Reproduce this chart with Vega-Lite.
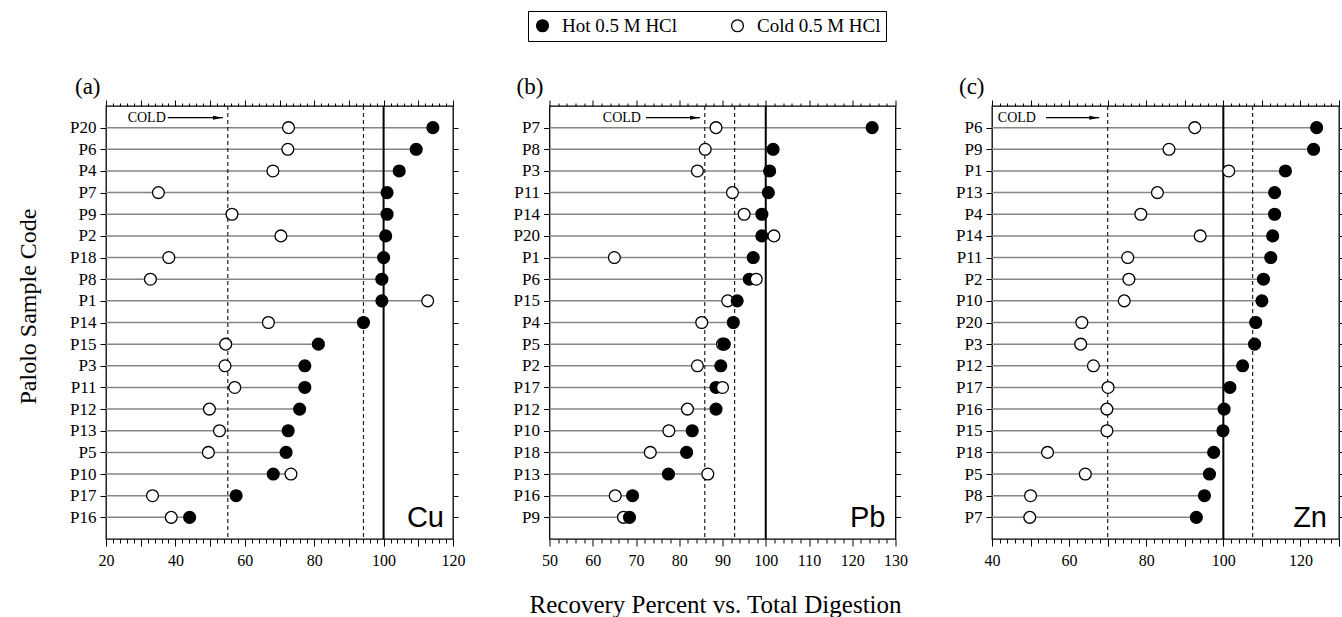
{
  "$schema": "https://vega.github.io/schema/vega-lite/v6.json",
  "background": "white",
  "padding": {"left": 15, "top": 10, "right": 0, "bottom": 2},
  "datasets": {
    "pts": [
      {"panel":"a","sample":"P20","hot":114.2,"cold":72.6},
      {"panel":"a","sample":"P6","hot":109.4,"cold":72.4},
      {"panel":"a","sample":"P4","hot":104.5,"cold":68.1},
      {"panel":"a","sample":"P7","hot":101.0,"cold":35.1},
      {"panel":"a","sample":"P9","hot":101.0,"cold":56.3},
      {"panel":"a","sample":"P2","hot":100.6,"cold":70.4},
      {"panel":"a","sample":"P18","hot":100.0,"cold":38.1},
      {"panel":"a","sample":"P8","hot":99.5,"cold":32.8},
      {"panel":"a","sample":"P1","hot":99.5,"cold":112.7},
      {"panel":"a","sample":"P14","hot":94.2,"cold":66.8},
      {"panel":"a","sample":"P15","hot":81.2,"cold":54.5},
      {"panel":"a","sample":"P3","hot":77.3,"cold":54.3},
      {"panel":"a","sample":"P11","hot":77.3,"cold":57.1},
      {"panel":"a","sample":"P12","hot":75.8,"cold":49.8},
      {"panel":"a","sample":"P13","hot":72.5,"cold":52.7},
      {"panel":"a","sample":"P5","hot":71.9,"cold":49.5},
      {"panel":"a","sample":"P10","hot":68.2,"cold":73.3},
      {"panel":"a","sample":"P17","hot":57.5,"cold":33.4},
      {"panel":"a","sample":"P16","hot":44.1,"cold":38.8},
      {"panel":"b","sample":"P7","hot":124.6,"cold":88.5},
      {"panel":"b","sample":"P8","hot":101.7,"cold":86.0},
      {"panel":"b","sample":"P3","hot":100.9,"cold":84.2},
      {"panel":"b","sample":"P11","hot":100.6,"cold":92.3},
      {"panel":"b","sample":"P14","hot":99.1,"cold":95.0},
      {"panel":"b","sample":"P20","hot":99.1,"cold":101.9},
      {"panel":"b","sample":"P1","hot":97.1,"cold":65.0},
      {"panel":"b","sample":"P6","hot":96.2,"cold":97.8},
      {"panel":"b","sample":"P15","hot":93.4,"cold":91.2},
      {"panel":"b","sample":"P4","hot":92.5,"cold":85.2},
      {"panel":"b","sample":"P5","hot":90.4,"cold":90.0},
      {"panel":"b","sample":"P2","hot":89.6,"cold":84.2},
      {"panel":"b","sample":"P17","hot":88.5,"cold":90.0},
      {"panel":"b","sample":"P12","hot":88.5,"cold":81.9},
      {"panel":"b","sample":"P10","hot":83.0,"cold":77.6},
      {"panel":"b","sample":"P18","hot":81.7,"cold":73.3},
      {"panel":"b","sample":"P13","hot":77.5,"cold":86.6},
      {"panel":"b","sample":"P16","hot":69.2,"cold":65.2},
      {"panel":"b","sample":"P9","hot":68.5,"cold":67.1},
      {"panel":"c","sample":"P6","hot":124.2,"cold":92.6},
      {"panel":"c","sample":"P9","hot":123.4,"cold":85.9},
      {"panel":"c","sample":"P1","hot":116.1,"cold":101.4},
      {"panel":"c","sample":"P13","hot":113.3,"cold":82.9},
      {"panel":"c","sample":"P4","hot":113.3,"cold":78.6},
      {"panel":"c","sample":"P14","hot":112.8,"cold":94.0},
      {"panel":"c","sample":"P11","hot":112.3,"cold":75.2},
      {"panel":"c","sample":"P2","hot":110.4,"cold":75.5},
      {"panel":"c","sample":"P10","hot":110.0,"cold":74.3},
      {"panel":"c","sample":"P20","hot":108.4,"cold":63.3},
      {"panel":"c","sample":"P3","hot":108.1,"cold":63.0},
      {"panel":"c","sample":"P12","hot":105.0,"cold":66.3},
      {"panel":"c","sample":"P17","hot":101.7,"cold":70.1},
      {"panel":"c","sample":"P16","hot":100.2,"cold":69.8},
      {"panel":"c","sample":"P15","hot":99.9,"cold":69.8},
      {"panel":"c","sample":"P18","hot":97.5,"cold":54.4},
      {"panel":"c","sample":"P5","hot":96.4,"cold":64.2},
      {"panel":"c","sample":"P8","hot":95.1,"cold":50.0},
      {"panel":"c","sample":"P7","hot":93.0,"cold":49.8}
    ],
    "refs": [
      {"panel":"a","value":55.1},
      {"panel":"a","value":94.2},
      {"panel":"b","value":85.9},
      {"panel":"b","value":92.8},
      {"panel":"c","value":70.0},
      {"panel":"c","value":107.6}
    ]
  },
  "title": {"text": "Recovery Percent vs. Total Digestion", "orient": "bottom", "anchor": "middle", "frame": "bounds", "offset": 24, "fontSize": 25, "dx": 35},
  "bounds": "flush",
  "spacing": 96.5,
  "hconcat": [
    {
      "width": 347, "height": 433,
      "title": {"text": "(a)", "anchor": "start", "frame": "group", "dx": -31, "offset": 1},
      "layer": [
        {
          "data": {"name": "pts"},
          "transform": [{"filter": "datum.panel === 'a'"}, {"fold": ["hot", "cold"], "as": ["acid", "pct"]}],
          "mark": {"type": "bar", "size": 1.5, "color": "#858585"},
          "encoding": {
            "y": {"field": "sample", "type": "nominal",
                  "scale": {"type": "point", "padding": 1, "domain": ["P20","P6","P4","P7","P9","P2","P18","P8","P1","P14","P15","P3","P11","P12","P13","P5","P10","P17","P16"]},
                  "axis": {"orient": "left", "title": "Palolo Sample Code", "titlePadding": 29, "titleY": 200, "tickSize": 6, "labelPadding": 4}},
            "x": {"aggregate": "max", "field": "pct", "type": "quantitative",
                  "scale": {"domain": [20, 120], "nice": false, "zero": false},
                  "axis": {"orient": "bottom", "title": null, "tickCount": 50, "labelExpr": "datum.value % 20 === 0 ? datum.label : ''",
                           "tickSize": {"condition": {"test": "datum.value % 10 === 0", "value": 7}, "value": 4}, "labelPadding": 6}}
          }
        },
        {
          "data": {"name": "refs"},
          "transform": [{"filter": "datum.panel === 'a'"}],
          "mark": {"type": "rule", "strokeDash": [4, 3], "color": "#222222", "strokeWidth": 1.2},
          "encoding": {"x": {"field": "value", "type": "quantitative", "axis": null}}
        },
        {
          "data": {"values": [{}]},
          "mark": {"type": "rule", "color": "black", "strokeWidth": 2},
          "encoding": {"x": {"datum": 100, "type": "quantitative", "axis": null}}
        },
        {
          "data": {"values": [{}]},
          "mark": {"type": "rule", "color": "black", "strokeWidth": 1.2, "yOffset": -10},
          "encoding": {"x": {"datum": 37.8, "type": "quantitative", "axis": null}, "x2": {"datum": 53.7}, "y": {"datum": "P20", "type": "nominal", "axis": null}}
        },
        {
          "data": {"values": [{}]},
          "mark": {"type": "point", "shape": "M-1,-0.4L1,0L-1,0.4Z", "filled": true, "color": "black", "opacity": 1, "size": 100, "xOffset": -5, "yOffset": -10},
          "encoding": {"x": {"datum": 53.7, "type": "quantitative", "axis": null}, "y": {"datum": "P20", "type": "nominal", "axis": null}}
        },
        {
          "data": {"values": [{}]},
          "mark": {"type": "text", "text": "COLD", "align": "right", "baseline": "middle", "fontSize": 14, "dx": -2, "dy": -10, "color": "black"},
          "encoding": {"x": {"datum": 37.8, "type": "quantitative", "axis": null}, "y": {"datum": "P20", "type": "nominal", "axis": null}}
        },
        {
          "data": {"name": "pts"},
          "transform": [{"filter": "datum.panel === 'a'"}, {"fold": ["hot", "cold"], "as": ["acid", "pct"]}],
          "mark": {"type": "point", "filled": true, "size": 140, "stroke": "black", "strokeWidth": 1.3, "opacity": 1},
          "encoding": {
            "y": {"field": "sample", "type": "nominal", "axis": {"orient": "right", "labels": false, "tickSize": 5, "title": null}},
            "x": {"field": "pct", "type": "quantitative", "axis": {"orient": "top", "labels": false, "title": null, "tickCount": 50,
                  "tickSize": {"condition": {"test": "datum.value % 10 === 0", "value": 6}, "value": 3}}},
            "fill": {"field": "acid", "type": "nominal", "scale": {"domain": ["hot", "cold"], "range": ["black", "white"]},
                     "legend": {"title": null, "labelExpr": "datum.label === 'hot' ? 'Hot 0.5 M HCl' : 'Cold 0.5 M HCl'"}},
            "order": {"field": "pct", "type": "quantitative"}
          }
        },
        {
          "data": {"values": [{}]},
          "mark": {"type": "text", "text": "Cu", "align": "right", "baseline": "middle", "font": "Liberation Sans", "fontSize": 29, "dx": -9, "dy": 1, "color": "black"},
          "encoding": {"x": {"datum": 120, "type": "quantitative", "axis": null}, "y": {"datum": "P16", "type": "nominal", "axis": null}}
        }
      ],
      "resolve": {"axis": {"x": "independent", "y": "independent"}}
    },
    {
      "width": 346, "height": 433,
      "title": {"text": "(b)", "anchor": "start", "frame": "group", "dx": -33, "offset": 1},
      "layer": [
        {
          "data": {"name": "pts"},
          "transform": [{"filter": "datum.panel === 'b'"}, {"fold": ["hot", "cold"], "as": ["acid", "pct"]}],
          "mark": {"type": "bar", "size": 1.5, "color": "#858585"},
          "encoding": {
            "y": {"field": "sample", "type": "nominal",
                  "scale": {"type": "point", "padding": 1, "domain": ["P7","P8","P3","P11","P14","P20","P1","P6","P15","P4","P5","P2","P17","P12","P10","P18","P13","P16","P9"]},
                  "axis": {"orient": "left", "title": null, "tickSize": 6, "labelPadding": 4}},
            "x": {"aggregate": "max", "field": "pct", "type": "quantitative",
                  "scale": {"domain": [50, 130], "nice": false, "zero": false},
                  "axis": {"orient": "bottom", "title": null, "tickCount": 50, "labelExpr": "datum.value % 10 === 0 ? datum.label : ''",
                           "tickSize": {"condition": {"test": "datum.value % 10 === 0", "value": 7}, "value": 4}, "labelPadding": 6}}
          }
        },
        {
          "data": {"name": "refs"},
          "transform": [{"filter": "datum.panel === 'b'"}],
          "mark": {"type": "rule", "strokeDash": [4, 3], "color": "#222222", "strokeWidth": 1.2},
          "encoding": {"x": {"field": "value", "type": "quantitative", "axis": null}}
        },
        {
          "data": {"values": [{}]},
          "mark": {"type": "rule", "color": "black", "strokeWidth": 2},
          "encoding": {"x": {"datum": 100, "type": "quantitative", "axis": null}}
        },
        {
          "data": {"values": [{}]},
          "mark": {"type": "rule", "color": "black", "strokeWidth": 1.2, "yOffset": -10},
          "encoding": {"x": {"datum": 72.3, "type": "quantitative", "axis": null}, "x2": {"datum": 84.8}, "y": {"datum": "P7", "type": "nominal", "axis": null}}
        },
        {
          "data": {"values": [{}]},
          "mark": {"type": "point", "shape": "M-1,-0.4L1,0L-1,0.4Z", "filled": true, "color": "black", "opacity": 1, "size": 100, "xOffset": -5, "yOffset": -10},
          "encoding": {"x": {"datum": 84.8, "type": "quantitative", "axis": null}, "y": {"datum": "P7", "type": "nominal", "axis": null}}
        },
        {
          "data": {"values": [{}]},
          "mark": {"type": "text", "text": "COLD", "align": "right", "baseline": "middle", "fontSize": 14, "dx": -5, "dy": -10, "color": "black"},
          "encoding": {"x": {"datum": 72.3, "type": "quantitative", "axis": null}, "y": {"datum": "P7", "type": "nominal", "axis": null}}
        },
        {
          "data": {"name": "pts"},
          "transform": [{"filter": "datum.panel === 'b'"}, {"fold": ["hot", "cold"], "as": ["acid", "pct"]}],
          "mark": {"type": "point", "filled": true, "size": 140, "stroke": "black", "strokeWidth": 1.3, "opacity": 1},
          "encoding": {
            "y": {"field": "sample", "type": "nominal", "axis": {"orient": "right", "labels": false, "tickSize": 5, "title": null}},
            "x": {"field": "pct", "type": "quantitative", "axis": {"orient": "top", "labels": false, "title": null, "tickCount": 50,
                  "tickSize": {"condition": {"test": "datum.value % 10 === 0", "value": 6}, "value": 3}}},
            "fill": {"field": "acid", "type": "nominal", "scale": {"domain": ["hot", "cold"], "range": ["black", "white"]},
                     "legend": {"title": null, "labelExpr": "datum.label === 'hot' ? 'Hot 0.5 M HCl' : 'Cold 0.5 M HCl'"}},
            "order": {"field": "pct", "type": "quantitative"}
          }
        },
        {
          "data": {"values": [{}]},
          "mark": {"type": "text", "text": "Pb", "align": "right", "baseline": "middle", "font": "Liberation Sans", "fontSize": 29, "dx": -10, "dy": 1, "color": "black"},
          "encoding": {"x": {"datum": 130, "type": "quantitative", "axis": null}, "y": {"datum": "P9", "type": "nominal", "axis": null}}
        }
      ],
      "resolve": {"axis": {"x": "independent", "y": "independent"}}
    },
    {
      "width": 347, "height": 433,
      "title": {"text": "(c)", "anchor": "start", "frame": "group", "dx": -33, "offset": 1},
      "layer": [
        {
          "data": {"name": "pts"},
          "transform": [{"filter": "datum.panel === 'c'"}, {"fold": ["hot", "cold"], "as": ["acid", "pct"]}],
          "mark": {"type": "bar", "size": 1.5, "color": "#858585"},
          "encoding": {
            "y": {"field": "sample", "type": "nominal",
                  "scale": {"type": "point", "padding": 1, "domain": ["P6","P9","P1","P13","P4","P14","P11","P2","P10","P20","P3","P12","P17","P16","P15","P18","P5","P8","P7"]},
                  "axis": {"orient": "left", "title": null, "tickSize": 6, "labelPadding": 4}},
            "x": {"aggregate": "max", "field": "pct", "type": "quantitative",
                  "scale": {"domain": [40, 130], "nice": false, "zero": false},
                  "axis": {"orient": "bottom", "title": null, "tickCount": 50, "labelExpr": "datum.value % 20 === 0 ? datum.label : ''",
                           "tickSize": {"condition": {"test": "datum.value % 10 === 0", "value": 7}, "value": 4}, "labelPadding": 6}}
          }
        },
        {
          "data": {"name": "refs"},
          "transform": [{"filter": "datum.panel === 'c'"}],
          "mark": {"type": "rule", "strokeDash": [4, 3], "color": "#222222", "strokeWidth": 1.2},
          "encoding": {"x": {"field": "value", "type": "quantitative", "axis": null}}
        },
        {
          "data": {"values": [{}]},
          "mark": {"type": "rule", "color": "black", "strokeWidth": 2},
          "encoding": {"x": {"datum": 100, "type": "quantitative", "axis": null}}
        },
        {
          "data": {"values": [{}]},
          "mark": {"type": "rule", "color": "black", "strokeWidth": 1.2, "yOffset": -10},
          "encoding": {"x": {"datum": 54.0, "type": "quantitative", "axis": null}, "x2": {"datum": 67.8}, "y": {"datum": "P6", "type": "nominal", "axis": null}}
        },
        {
          "data": {"values": [{}]},
          "mark": {"type": "point", "shape": "M-1,-0.4L1,0L-1,0.4Z", "filled": true, "color": "black", "opacity": 1, "size": 100, "xOffset": -5, "yOffset": -10},
          "encoding": {"x": {"datum": 67.8, "type": "quantitative", "axis": null}, "y": {"datum": "P6", "type": "nominal", "axis": null}}
        },
        {
          "data": {"values": [{}]},
          "mark": {"type": "text", "text": "COLD", "align": "right", "baseline": "middle", "fontSize": 14, "dx": -10, "dy": -10, "color": "black"},
          "encoding": {"x": {"datum": 54.0, "type": "quantitative", "axis": null}, "y": {"datum": "P6", "type": "nominal", "axis": null}}
        },
        {
          "data": {"name": "pts"},
          "transform": [{"filter": "datum.panel === 'c'"}, {"fold": ["hot", "cold"], "as": ["acid", "pct"]}],
          "mark": {"type": "point", "filled": true, "size": 140, "stroke": "black", "strokeWidth": 1.3, "opacity": 1},
          "encoding": {
            "y": {"field": "sample", "type": "nominal", "axis": {"orient": "right", "labels": false, "tickSize": 5, "title": null}},
            "x": {"field": "pct", "type": "quantitative", "axis": {"orient": "top", "labels": false, "title": null, "tickCount": 50,
                  "tickSize": {"condition": {"test": "datum.value % 10 === 0", "value": 6}, "value": 3}}},
            "fill": {"field": "acid", "type": "nominal", "scale": {"domain": ["hot", "cold"], "range": ["black", "white"]},
                     "legend": {"title": null, "labelExpr": "datum.label === 'hot' ? 'Hot 0.5 M HCl' : 'Cold 0.5 M HCl'"}},
            "order": {"field": "pct", "type": "quantitative"}
          }
        },
        {
          "data": {"values": [{}]},
          "mark": {"type": "text", "text": "Zn", "align": "right", "baseline": "middle", "font": "Liberation Sans", "fontSize": 29, "dx": -12, "dy": 1, "color": "black"},
          "encoding": {"x": {"datum": 130, "type": "quantitative", "axis": null}, "y": {"datum": "P7", "type": "nominal", "axis": null}}
        }
      ],
      "resolve": {"axis": {"x": "independent", "y": "independent"}}
    }
  ],
  "config": {
    "font": "Liberation Serif",
    "view": {"stroke": "black", "strokeWidth": 1.3},
    "axis": {"grid": false, "domain": false, "labelFont": "Liberation Serif", "labelColor": "black", "tickColor": "black", "tickWidth": 1,
             "titleFont": "Liberation Serif", "titleFontWeight": "normal", "titleColor": "black", "labelFlush": false, "labelOverlap": false},
    "axisX": {"labelFontSize": 16},
    "axisY": {"labelFontSize": 17, "titleFontSize": 24},
    "title": {"font": "Liberation Serif", "fontSize": 23, "fontWeight": "normal", "color": "black"},
    "legend": {"orient": "none", "legendX": 422, "legendY": -95, "direction": "horizontal", "labelFont": "Liberation Serif", "labelFontSize": 19,
               "labelColor": "black", "strokeColor": "black", "fillColor": "white", "padding": 5, "columnPadding": 50, "symbolSize": 140,
               "symbolStrokeColor": "black", "symbolStrokeWidth": 1.3, "labelOffset": 10}
  }
}
